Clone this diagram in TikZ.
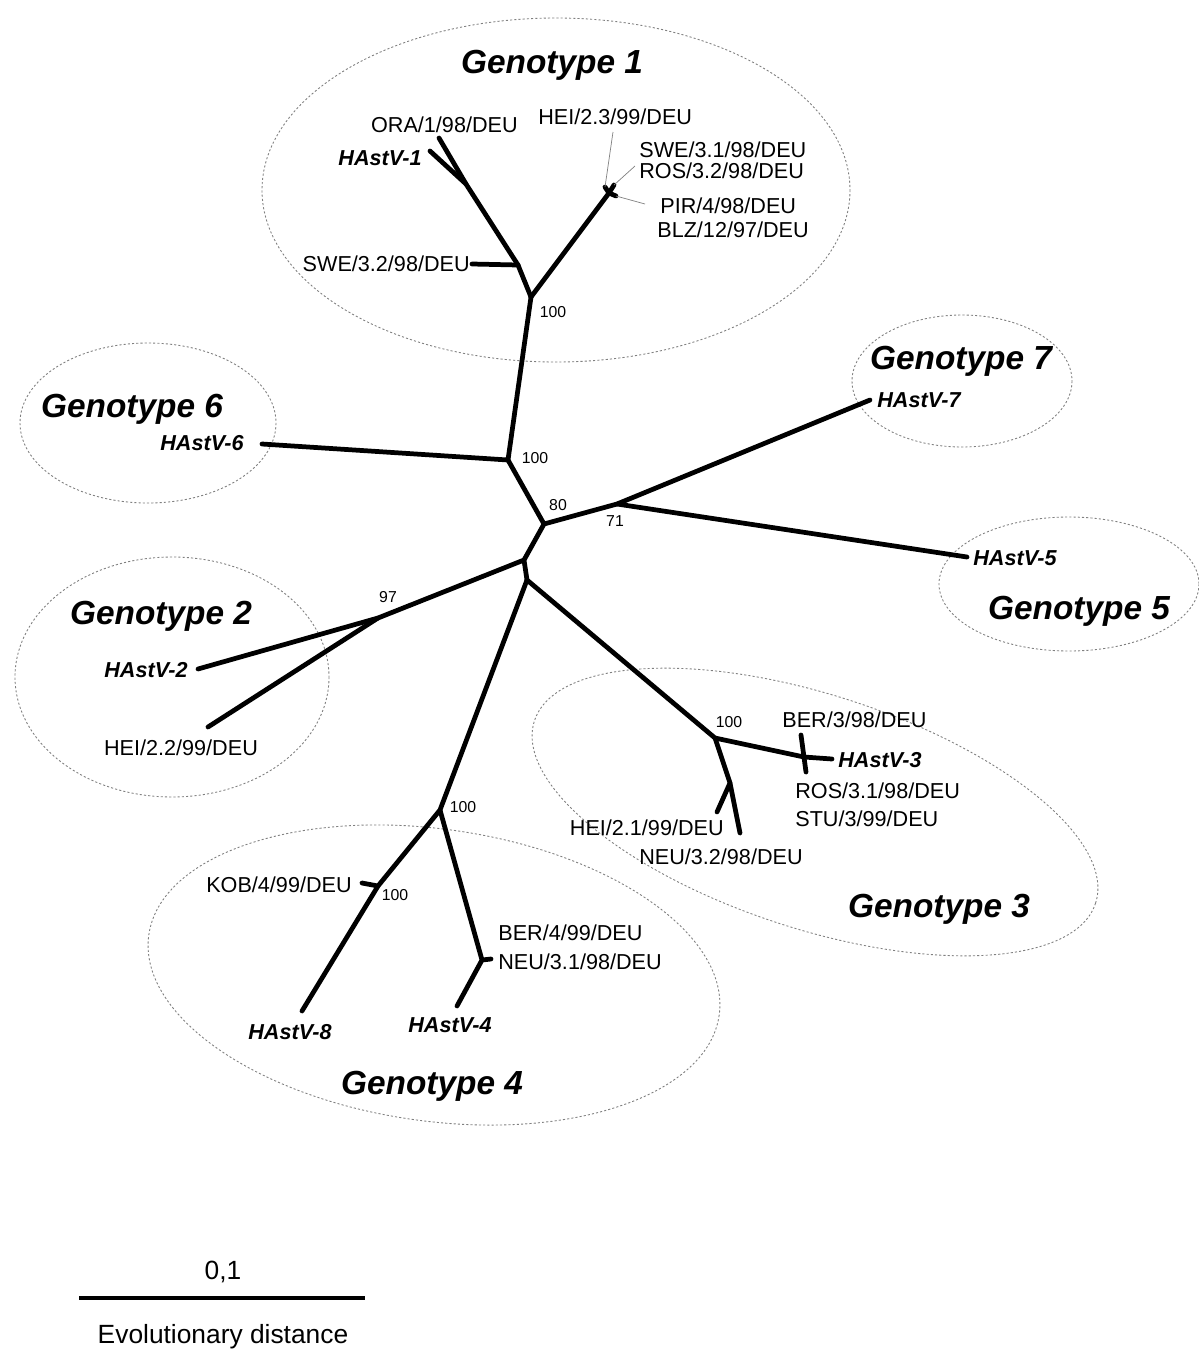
\documentclass[tikz,border=0pt]{standalone}
\usepackage{fontspec}
\setmainfont{Liberation Sans}
\usetikzlibrary{calc}

\begin{document}
\begin{tikzpicture}[x=0.02cm, y=-0.02cm,
    branch/.style={line width=2.7pt, line cap=round, line join=round},
    clade/.style={draw=gray, line width=0.5pt, dash pattern=on 1.2pt off 1.2pt},
    leader/.style={draw=gray, line width=0.4pt},
    strain/.style={inner sep=0pt, text height=8.8pt, text depth=0pt, font=\fontsize{12.3}{14}\selectfont},
    refstrain/.style={strain, font=\fontsize{12.3}{14}\selectfont\bfseries\itshape},
    geno/.style={inner sep=0pt, text height=13.6pt, text depth=0pt, font=\fontsize{19}{22}\selectfont\bfseries\itshape},
    boot/.style={inner sep=0pt, font=\fontsize{9}{10}\selectfont}]
  \useasboundingbox (0,0) rectangle (1199,1353);
  \fill[white] (0,0) rectangle (1199,1353);

  % genotype groups
  \draw[clade] (556,190) ellipse [x radius=294, y radius=172];
  \draw[clade] (148,423) ellipse [x radius=128, y radius=80];
  \draw[clade] (962,381) ellipse [x radius=110, y radius=66];
  \draw[clade] (1069,584) ellipse [x radius=130, y radius=67];
  \draw[clade] (172,677) ellipse [x radius=157, y radius=120];
  \draw[clade, rotate around={-18:(815,812)}] (815,812) ellipse [x radius=295, y radius=117];
  \draw[clade, rotate around={-8:(434,975)}] (434,975) ellipse [x radius=288, y radius=146];

  \node[geno] (geno1) at (552,62) {Genotype 1};
  \node[geno] (geno6) at (132,406) {Genotype 6};
  \node[geno] (geno7) at (961,358) {Genotype 7};
  \node[geno] (geno5) at (1079,608) {Genotype 5};
  \node[geno] (geno2) at (161,613) {Genotype 2};
  \node[geno] (geno3) at (939,906) {Genotype 3};
  \node[geno] (geno4) at (432,1083) {Genotype 4};

  % inner nodes
  \coordinate (g1) at (531,297);
  \coordinate (g1a) at (518,265);
  \coordinate (g1b) at (466,184);
  \coordinate (g1c) at (609,193);
  \coordinate (g6) at (508,460);
  \coordinate (g80) at (544,524);
  \coordinate (g71) at (617,504);
  \coordinate (gm) at (524,560);
  \coordinate (gs) at (527,580);
  \coordinate (g97) at (378,618);
  \coordinate (g3) at (715,738);
  \coordinate (g3a) at (804,757);
  \coordinate (g3b) at (730,783);
  \coordinate (g4) at (440,810);
  \coordinate (g8) at (378,886);
  \coordinate (g4b) at (482,960);

  % tips
  \coordinate (t-ora) at (439,138);
  \coordinate (t-h1) at (430,151);
  \coordinate (t-swe32) at (472,264);
  \coordinate (t-hei23) at (605,187);
  \coordinate (t-swe31) at (614,185);
  \coordinate (t-pir) at (616,196);
  \coordinate (t-h6) at (262,444);
  \coordinate (t-h7) at (870,400);
  \coordinate (t-h5) at (967,557);
  \coordinate (t-h2) at (198,669);
  \coordinate (t-hei22) at (208,727);
  \coordinate (t-ber3) at (801,735);
  \coordinate (t-ros31) at (806,772);
  \coordinate (t-h3) at (832,759);
  \coordinate (t-hei21) at (717,812);
  \coordinate (t-neu32) at (740,833);
  \coordinate (t-kob) at (362,883);
  \coordinate (t-h8) at (302,1011);
  \coordinate (t-ber4) at (491,959);
  \coordinate (t-h4) at (457,1006);

  % branches
  \draw[branch] (g1) -- (g1a) -- (g1b) -- (t-ora);
  \draw[branch] (g1b) -- (t-h1);
  \draw[branch] (g1a) -- (t-swe32);
  \draw[branch] (g1) -- (g1c) -- (t-hei23);
  \draw[branch] (g1c) -- (t-swe31);
  \draw[branch] (g1c) -- (t-pir);
  \draw[branch] (g1) -- (g6) -- (t-h6);
  \draw[branch] (g6) -- (g80) -- (g71) -- (t-h7);
  \draw[branch] (g71) -- (t-h5);
  \draw[branch] (g80) -- (gm) -- (gs);
  \draw[branch] (gm) -- (g97) -- (t-h2);
  \draw[branch] (g97) -- (t-hei22);
  \draw[branch] (gs) -- (g3) -- (g3a) -- (t-h3);
  \draw[branch] (t-ber3) -- (t-ros31);
  \draw[branch] (g3) -- (g3b) -- (t-hei21);
  \draw[branch] (g3b) -- (t-neu32);
  \draw[branch] (gs) -- (g4) -- (g8) -- (t-h8);
  \draw[branch] (g8) -- (t-kob);
  \draw[branch] (g4) -- (g4b) -- (t-h4);
  \draw[branch] (g4b) -- (t-ber4);

  % strain labels
  \node[strain, anchor=east] (ora) at (518,125) {ORA/1/98/DEU};
  \node[refstrain, anchor=east] (hastv1) at (422,158) {HAstV-1};
  \node[strain, anchor=east] (swe32) at (470,264) {SWE/3.2/98/DEU};
  \node[strain, anchor=west] (hei23) at (538,117) {HEI/2.3/99/DEU};
  \node[strain, anchor=west] (swe31) at (639,150) {SWE/3.1/98/DEU};
  \node[strain, anchor=west] (ros32) at (639,171) {ROS/3.2/98/DEU};
  \node[strain, anchor=west] (pir) at (660,206) {PIR/4/98/DEU};
  \node[strain, anchor=west] (blz) at (657,230) {BLZ/12/97/DEU};
  \node[refstrain, anchor=east] (hastv6) at (244,443) {HAstV-6};
  \node[refstrain, anchor=west] (hastv7) at (877,400) {HAstV-7};
  \node[refstrain, anchor=west] (hastv5) at (973,558) {HAstV-5};
  \node[refstrain, anchor=east] (hastv2) at (188,670) {HAstV-2};
  \node[strain] (hei22) at (181,748) {HEI/2.2/99/DEU};
  \node[strain, anchor=west] (ber3) at (782,720) {BER/3/98/DEU};
  \node[refstrain, anchor=west] (hastv3) at (838,760) {HAstV-3};
  \node[strain, anchor=west] (ros31) at (795,791) {ROS/3.1/98/DEU};
  \node[strain, anchor=west] (stu) at (795,819) {STU/3/99/DEU};
  \node[strain, anchor=east] (hei21) at (724,828) {HEI/2.1/99/DEU};
  \node[strain, anchor=east] (neu32) at (803,857) {NEU/3.2/98/DEU};
  \node[strain, anchor=east] (kob) at (352,885) {KOB/4/99/DEU};
  \node[strain, anchor=west] (ber4) at (498,933) {BER/4/99/DEU};
  \node[strain, anchor=west] (neu31) at (498,962) {NEU/3.1/98/DEU};
  \node[refstrain] (hastv8) at (290,1032) {HAstV-8};
  \node[refstrain] (hastv4) at (450,1025) {HAstV-4};

  % leader lines
  \coordinate (c-hei23) at (613,132);
  \coordinate (c-swe31) at (635,166);
  \coordinate (c-pir) at (645,204);
  \draw[leader] (c-hei23) -- (t-hei23);
  \draw[leader] (c-swe31) -- (t-swe31);
  \draw[leader] (c-pir) -- (t-pir);

  % bootstrap values
  \node[boot] (b1) at (553,312) {100};
  \node[boot] (b6) at (535,458) {100};
  \node[boot] (b80) at (558,505) {80};
  \node[boot] (b71) at (615,521) {71};
  \node[boot] (b97) at (388,597) {97};
  \node[boot] (b3) at (729,722) {100};
  \node[boot] (b4) at (463,807) {100};
  \node[boot] (b8) at (395,895) {100};

  % scale bar
  \coordinate (s0) at (79,1298);
  \coordinate (s1) at (365,1298);
  \draw[line width=2.7pt] (s0) -- (s1);
  \node[font=\fontsize{15}{17}\selectfont] (scale) at (223,1272) {0,1};
  \node[font=\fontsize{15}{17}\selectfont] (dist) at (223,1337) {Evolutionary distance};
\end{tikzpicture}
\end{document}
